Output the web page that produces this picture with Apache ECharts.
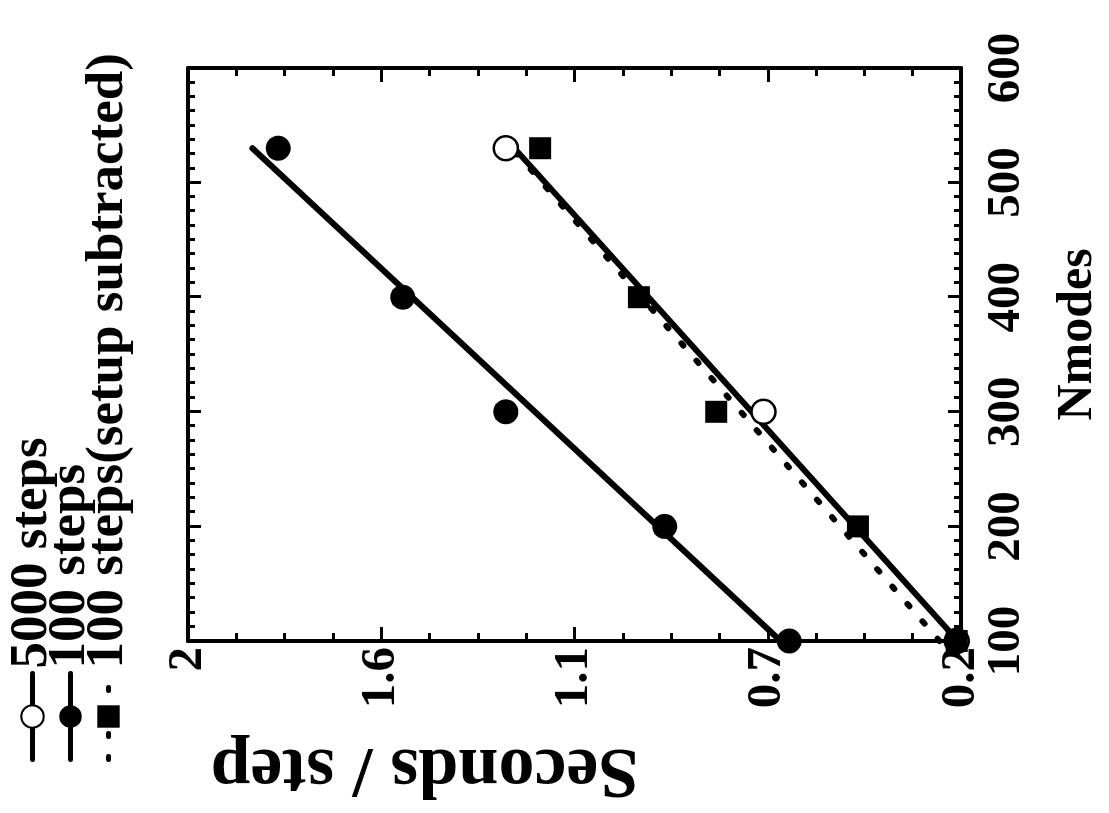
<!DOCTYPE html>
<html>
<head>
<meta charset="utf-8">
<script src="https://cdn.jsdelivr.net/npm/echarts@6/dist/echarts.min.js"></script>
<style>
  html, body { margin: 0; padding: 0; background: #fff; overflow: hidden; width: 1109px; height: 813px; }
  /* the plot is laid out upright (813 x 1109) and turned a quarter turn counter-clockwise */
  #chart { position: absolute; width: 813px; height: 1109px; left: 148px; top: -148px; transform: rotate(-90deg); }
</style>
</head>
<body>
<div id="chart"></div>
<script>
// Timing of the mode-sum step versus number of modes
const nmodesTickLabels = ['100', '200', '300', '400', '500', '600'];
const secondsTickLabels = ['0.2', '0.7', '1.1', '1.6', '2'];

const seriesNames = ['5000 steps', '100 steps', '100 steps(setup subtracted)'];

// measured points
const nmodes5000 = [100, 300, 530];
const seconds5000 = [0.21, 0.66, 1.26];
const nmodes100 = [100, 200, 300, 400, 530];
const seconds100 = [0.60, 0.89, 1.26, 1.50, 1.79];
const nmodesSub = [100, 200, 300, 400, 530];
const secondsSub = [0.21, 0.44, 0.77, 0.95, 1.18];

// straight-line fits, given at their two ends
const nmodesFit = [100, 530];
const fit5000 = [0.207, 1.24];
const fit100 = [0.62, 1.85];
const fitSub = [0.25, 1.245];

const FONT = 'Liberation Serif';
const pairs = (xs, ys) => xs.map((x, i) => [x, ys[i]]);

const chart = echarts.init(document.getElementById('chart'), null, { renderer: 'canvas' });

const nmodesAxisBase = {
  type: 'value', min: 100, max: 600, interval: 100,
  axisLine: { show: true, onZero: false, lineStyle: { color: '#000', width: 4 } },
  axisTick: { show: true, inside: true, length: 13, lineStyle: { color: '#000', width: 3 } },
  minorTick: { show: true, splitNumber: 8, length: 7, lineStyle: { color: '#000', width: 3 } },
  splitLine: { show: false }
};
const secondsAxisBase = {
  type: 'value', min: 0.2, max: 2.0, interval: 0.45,
  axisLine: { show: true, onZero: false, lineStyle: { color: '#000', width: 4 } },
  axisTick: { show: true, inside: true, length: 14, lineStyle: { color: '#000', width: 3 } },
  minorTick: { show: true, splitNumber: 4, length: 8, lineStyle: { color: '#000', width: 3 } },
  splitLine: { show: false }
};

const fitLine = (name, ys, symbol, lineType) => ({
  name: name, type: 'line', data: pairs(nmodesFit, ys),
  symbol: symbol, symbolSize: 22, showSymbol: false,
  itemStyle: { color: '#000', borderColor: '#000', opacity: 1 },
  lineStyle: { color: '#000', width: 6, type: lineType, cap: 'round' },
  z: 2, silent: true
});

chart.setOption({
  animation: false,
  backgroundColor: '#fff',
  grid: { left: 162, right: 68, top: 188, bottom: 148 },
  legend: {
    orient: 'vertical', left: 46, top: 1,
    itemWidth: 86, itemHeight: 28, itemGap: -15,
    data: seriesNames,
    lineStyle: { width: 5 },
    textStyle: { fontFamily: FONT, fontWeight: 'bold', fontSize: 53, color: '#000' }
  },
  xAxis: [
    Object.assign({}, nmodesAxisBase, {
      position: 'bottom',
      name: 'Nmodes', nameLocation: 'middle', nameGap: 92,
      nameTextStyle: { fontFamily: FONT, fontWeight: 'bold', fontSize: 50, color: '#000', padding: [0, 0, 0, 40] },
      axisLabel: {
        margin: 22, fontFamily: FONT, fontWeight: 'bold', fontSize: 47, color: '#000',
        formatter: v => nmodesTickLabels[Math.round((v - 100) / 100)]
      }
    }),
    Object.assign({}, nmodesAxisBase, { position: 'top', axisLabel: { show: false } })
  ],
  yAxis: [
    Object.assign({}, secondsAxisBase, {
      position: 'left',
      name: 'Seconds / step', nameLocation: 'middle', nameGap: 92, nameRotate: 90,
      nameTextStyle: { fontFamily: FONT, fontWeight: 'bold', fontSize: 72, color: '#000', padding: [0, 0, 0, 300] },
      axisLabel: {
        margin: 6, fontFamily: FONT, fontWeight: 'bold', fontSize: 49, color: '#000',
        formatter: v => secondsTickLabels[Math.round((v - 0.2) / 0.45)]
      }
    }),
    Object.assign({}, secondsAxisBase, { position: 'right', axisLabel: { show: false } })
  ],
  series: [
    fitLine(seriesNames[0], fit5000, 'emptyCircle', 'solid'),
    fitLine(seriesNames[1], fit100, 'circle', 'solid'),
    fitLine(seriesNames[2], fitSub, 'rect', [3, 20]),
    {
      name: seriesNames[0], type: 'scatter', data: pairs(nmodes5000, seconds5000),
      symbol: 'circle', symbolSize: 24, clip: false,
      itemStyle: { color: '#fff', borderColor: '#000', borderWidth: 2.5, opacity: 1 }, z: 4
    },
    {
      name: seriesNames[1], type: 'scatter', data: pairs(nmodes100, seconds100),
      symbol: 'circle', symbolSize: 25, clip: false,
      itemStyle: { color: '#000', opacity: 1 }, z: 4
    },
    {
      name: seriesNames[2], type: 'scatter', data: pairs(nmodesSub, secondsSub),
      symbol: 'rect', symbolSize: 22, clip: false,
      itemStyle: { color: '#000', opacity: 1 }, z: 5
    }
  ]
});
</script>
</body>
</html>
